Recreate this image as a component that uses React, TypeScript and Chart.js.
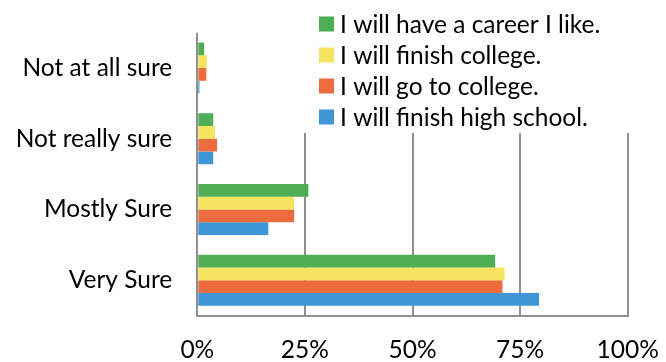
import React, { useEffect, useRef } from 'react';
import { Chart, registerables } from 'chart.js';

Chart.register(...registerables);

const categories = ['Not at all sure', 'Not really sure', 'Mostly Sure', 'Very Sure'];
const seriesNames = [
  'I will have a career I like.',
  'I will finish college.',
  'I will go to college.',
  'I will finish high school.',
];
const careerLike = [1.6, 3.7, 25.8, 69.2];
const finishCollege = [2.2, 4.1, 22.5, 71.4];
const goCollege = [2.1, 4.6, 22.5, 70.9];
const finishHighSchool = [0.5, 3.7, 16.5, 79.4];
const seriesColors = ['#4EAD55', '#F6E35F', '#EC6C3E', '#3E96D6'];
const xTickStep = 25;
const xMax = 100;

const FONT = 'Lato';
const FONT_SIZE = 24.5;

const legendPlugin = {
  id: 'boxLegend',
  afterDraw(chart: any) {
    const ctx = chart.ctx;
    ctx.save();
    ctx.fillStyle = '#ffffff';
    ctx.fillRect(300, 0, 345, 133);
    ctx.font = `${FONT_SIZE}px ${FONT}`;
    ctx.textBaseline = 'middle';
    ctx.textAlign = 'left';
    chart.data.datasets.forEach((ds: any, i: number) => {
      const cy = 24 + i * 31;
      ctx.fillStyle = ds.backgroundColor;
      ctx.fillRect(319, cy - 7.5, 15, 15);
      ctx.fillStyle = '#000000';
      ctx.fillText(ds.label, 340, cy + 1);
    });
    ctx.restore();
  },
};

export default function App() {
  const ref = useRef<HTMLCanvasElement | null>(null);
  useEffect(() => {
    if (!ref.current) return;
    const series = [careerLike, finishCollege, goCollege, finishHighSchool];
    const chart = new Chart(ref.current, {
      type: 'bar',
      data: {
        labels: categories,
        datasets: series.map((d, i) => ({
          label: seriesNames[i],
          data: d,
          backgroundColor: seriesColors[i],
          borderWidth: 0,
          categoryPercentage: 0.72,
          barPercentage: 1,
        })),
      },
      options: {
        indexAxis: 'y',
        responsive: false,
        animation: false,
        devicePixelRatio: 1,
        layout: { padding: { top: 32.7, right: 38.3, left: 0, bottom: 0 } },
        plugins: { legend: { display: false }, tooltip: { enabled: false } },
        scales: {
          x: {
            min: 0,
            max: xMax,
            ticks: {
              stepSize: xTickStep,
              callback: (v: any) => `${v}%`,
              color: '#000',
              font: { family: FONT, size: FONT_SIZE },
              padding: 20,
            },
            grid: { color: '#8f8f8f', lineWidth: 2, drawTicks: false },
            border: { display: true, color: '#8f8f8f', width: 2 },
            afterFit: (s: any) => {
              s.height = 362 - 315.7;
              s.paddingLeft = 0;
              s.paddingRight = 0;
            },
          },
          y: {
            ticks: {
              color: '#000',
              font: { family: FONT, size: FONT_SIZE },
              padding: 25,
            },
            grid: { display: false, drawTicks: false },
            border: { display: false },
            afterFit: (s: any) => {
              s.width = 197.3;
              s.paddingTop = 0;
              s.paddingBottom = 0;
            },
          },
        },
      },
      plugins: [legendPlugin],
    });
    return () => chart.destroy();
  }, []);
  return (
    <div style={{ position: 'absolute', left: 0, top: 0, width: 666, height: 362 }}>
      <canvas ref={ref} width={666} height={362} />
    </div>
  );
}
